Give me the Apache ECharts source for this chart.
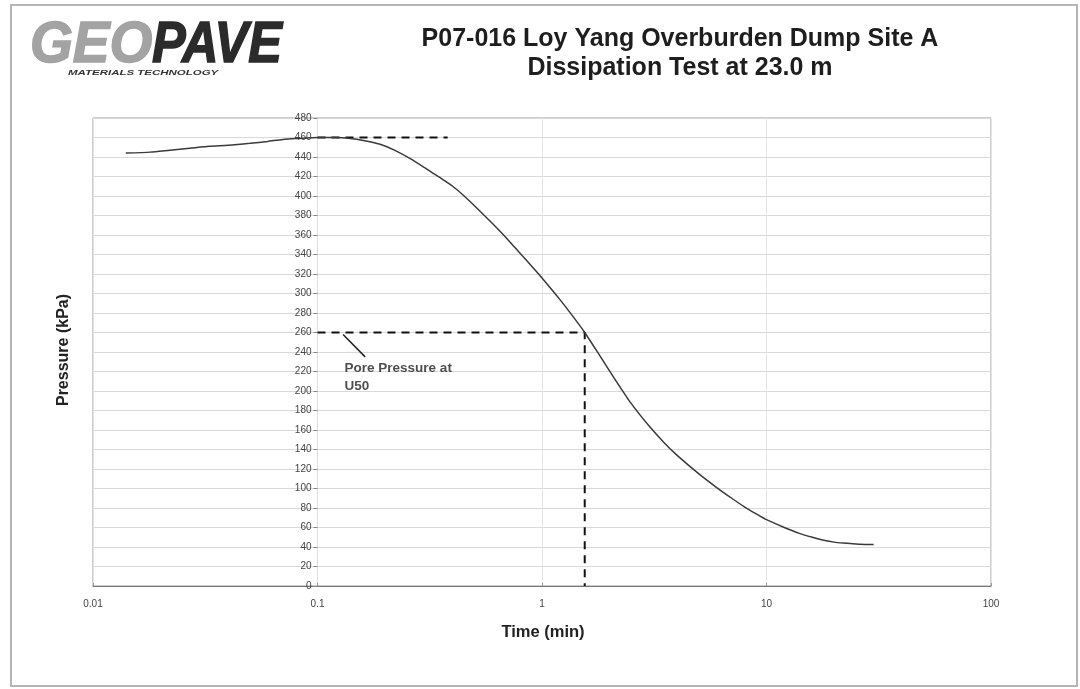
<!DOCTYPE html>
<html>
<head>
<meta charset="utf-8">
<script src="https://cdn.jsdelivr.net/npm/echarts@6/dist/echarts.min.js"></script>
<style>
html,body{margin:0;padding:0;background:#fff;}
#chart{width:1080px;height:689px;}
</style>
</head>
<body>
<div id="chart"></div>
<script>
// ---- data ----
var timeMin = [0.014, 0.018, 0.022, 0.027, 0.033, 0.04, 0.05, 0.06, 0.07, 0.08, 0.09, 0.1, 0.12, 0.14, 0.16, 0.19, 0.22, 0.26, 0.3, 0.35, 0.4, 0.45, 0.5, 0.6, 0.7, 0.8, 0.9, 1.0, 1.2, 1.4, 1.55, 1.8, 2.1, 2.5, 3.0, 3.5, 4.0, 5.0, 6.0, 7.0, 8.0, 9.0, 10, 12, 14, 16, 18, 20, 22, 25, 28, 30];
var pressureKPa = [444, 445, 447, 449, 451, 452, 454, 456, 458, 459, 459.5, 460, 460, 459, 457, 453, 447, 438, 429, 419, 410, 400, 390, 372, 356, 341, 328, 316, 294, 274, 260, 237, 213, 187, 164, 147, 134, 115, 101, 90, 81, 74, 68, 60, 54, 50, 47, 45, 44, 43, 42.5, 42.5];
var peakLine = [[0.1, 460], [0.38, 460]];
var u50Line = [[0.1, 260], [1.55, 260], [1.55, 0]];
var arrowLine = [[0.13, 258], [0.163, 235]];
var annotationPoint = [[0.132, 233]];
var annotationText = 'Pore Pressure at\nU50';
var xTickLabels = {0.01: '0.01', 0.1: '0.1', 1: '1', 10: '10', 100: '100'};
var titleLines = 'P07-016 Loy Yang Overburden Dump Site A\nDissipation Test at 23.0 m';

var chart = echarts.init(document.getElementById('chart'), null, {renderer: 'canvas'});
var FONT = 'Liberation Sans, Arial, sans-serif';
var gridLeft = 93, gridRight = 89, gridTop = 118, gridBottom = 103;
var gridWidth = 1080 - gridLeft - gridRight;

function pairs(arrX, arrY) {
  return arrX.map(function (t, i) { return [t, arrY[i]]; });
}

var option = {
  backgroundColor: '#fff',
  animation: false,
  textStyle: {fontFamily: FONT},
  title: {
    text: titleLines,
    left: 675,
    top: 20,
    textAlign: 'center',
    textStyle: {fontSize: 25, fontWeight: 'bold', color: '#1e1e1e', lineHeight: 29, fontFamily: FONT}
  },
  grid: {
    left: gridLeft, right: gridRight, top: gridTop, bottom: gridBottom,
    show: true, borderColor: '#9a9a9a', borderWidth: 1
  },
  xAxis: {
    type: 'log', logBase: 10, min: 0.01, max: 100,
    axisLine: {show: true, lineStyle: {color: '#777', width: 1}},
    axisTick: {show: true, inside: true, length: 3, lineStyle: {color: '#999'}},
    axisLabel: {
      fontSize: 10, color: '#444', margin: 13, fontFamily: FONT,
      formatter: function (v) { return xTickLabels[v] !== undefined ? xTickLabels[v] : ''; }
    },
    splitLine: {show: true, lineStyle: {color: '#e4e4e4', width: 1}}
  },
  yAxis: {
    type: 'value', min: 0, max: 480, interval: 20,
    offset: -gridWidth / 4,
    axisLine: {show: true, lineStyle: {color: '#e0e0e0', width: 1}},
    axisTick: {show: true, length: 4, lineStyle: {color: '#888'}},
    axisLabel: {fontSize: 10, color: '#444', margin: 6, fontFamily: FONT},
    splitLine: {show: true, lineStyle: {color: '#d9d9d9', width: 1}}
  },
  series: [
    {
      name: 'Pressure', type: 'line', data: pairs(timeMin, pressureKPa),
      showSymbol: false, symbol: 'none', smooth: 0.2,
      lineStyle: {color: '#3a3a3a', width: 1.5}, z: 5
    },
    {
      name: 'Peak', type: 'line', data: peakLine, showSymbol: false, symbol: 'none',
      lineStyle: {color: '#111', width: 2, type: [8, 6]}, z: 4
    },
    {
      name: 'U50', type: 'line', data: u50Line, showSymbol: false, symbol: 'none',
      lineStyle: {color: '#111', width: 2, type: [8, 6]}, z: 4
    },
    {
      name: 'Arrow', type: 'line', data: arrowLine, showSymbol: false, symbol: 'none',
      lineStyle: {color: '#222', width: 1.5}, z: 6
    },
    {
      name: 'Annotation', type: 'scatter', data: annotationPoint, symbolSize: 0,
      label: {
        show: true, position: 'right', distance: 0, formatter: annotationText,
        fontSize: 13.5, fontWeight: 'bold', color: '#222', lineHeight: 18, align: 'left',
        verticalAlign: 'top', fontFamily: FONT
      }, z: 6
    }
  ],
  graphic: [
    {type: 'rect', shape: {x: 11, y: 5, width: 1066, height: 681}, style: {fill: 'none', stroke: '#b5b5b5', lineWidth: 2}, z: -1},
    {type: 'text', x: 30, y: 17, scaleX: 0.95, style: {text: 'GEO', font: 'italic bold 58px ' + FONT, fill: '#a3a3a3', stroke: '#a3a3a3', lineWidth: 1.5}},
    {type: 'text', x: 152, y: 17, scaleX: 0.87, style: {text: 'PAVE', font: 'italic bold 58px ' + FONT, fill: '#2b2b2b', stroke: '#2b2b2b', lineWidth: 1.5}},
    {type: 'text', x: 68, y: 69, scaleX: 1.53, style: {text: 'MATERIALS TECHNOLOGY', font: 'italic bold 7.5px ' + FONT, fill: '#333'}},
    {type: 'text', x: 64, y: 350, rotation: Math.PI / 2, style: {text: 'Pressure (kPa)', font: 'bold 16px ' + FONT, fill: '#222', textAlign: 'center', textVerticalAlign: 'middle'}},
    {type: 'text', x: 543, y: 632, style: {text: 'Time (min)', font: 'bold 16.5px ' + FONT, fill: '#222', textAlign: 'center', textVerticalAlign: 'middle'}}
  ]
};
chart.setOption(option);
</script>
</body>
</html>
